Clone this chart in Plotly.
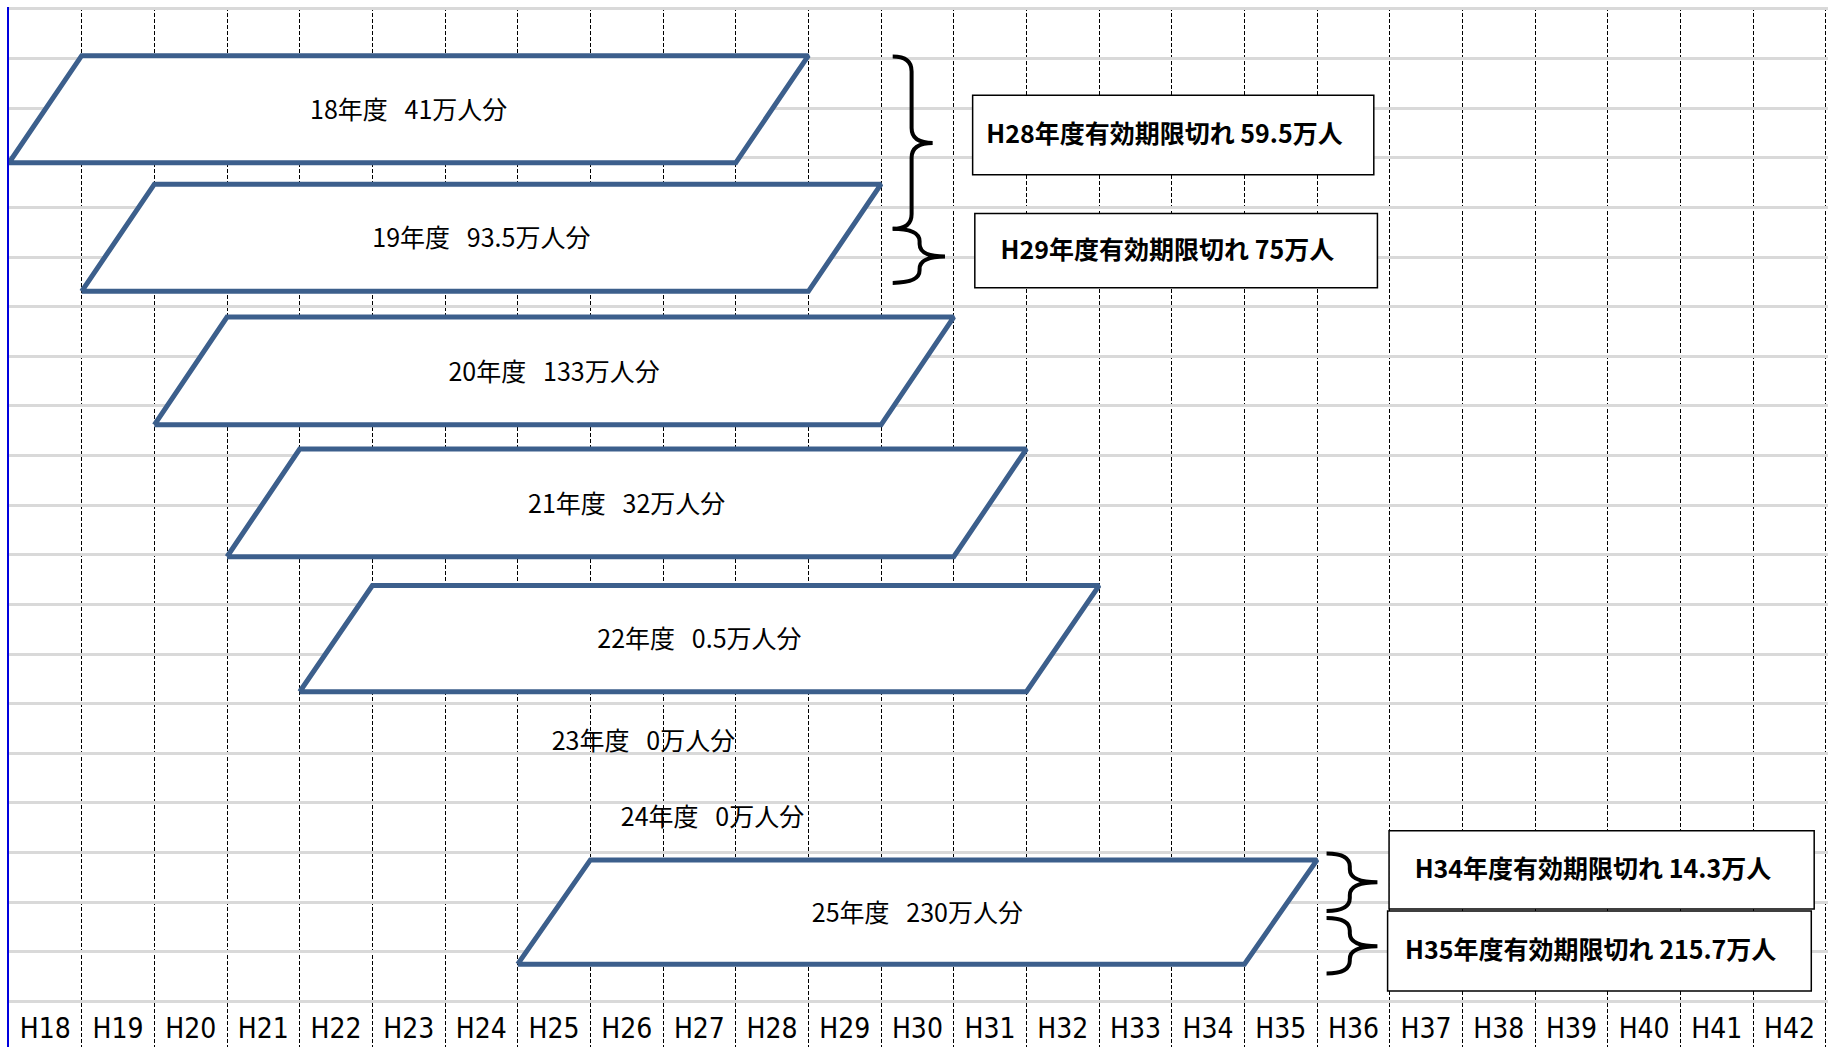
import plotly.graph_objects as go

# ---- data ----
fiscal_years = ["18年度", "19年度", "20年度", "21年度", "22年度", "23年度", "24年度", "25年度"]
issued_10k = ["41", "93.5", "133", "32", "0.5", "0", "0", "230"]
start_col = [0, 1, 2, 3, 4, 5, 6, 7]          # column index of start (H18 = 0)
drawn = [True, True, True, True, True, False, False, True]
row_top = [0.94, 3.53, 6.21, 8.87, 11.62, None, None, 17.15]
row_bottom = [3.10, 5.69, 8.38, 11.04, 13.76, None, None, 19.25]
valid_years = 10
# label positions for years with no parallelogram
empty_label_x = [8.73, 9.68]
empty_label_y = [14.8, 16.33]

tick_labels = ["H%d" % y for y in range(18, 43)]

expiry_texts = ["H28年度有効期限切れ 59.5万人", "H29年度有効期限切れ 75万人",
                "H34年度有効期限切れ 14.3万人", "H35年度有効期限切れ 215.7万人"]
box_x0 = [13.26, 13.29, 18.99, 18.97]
box_x1 = [18.78, 18.83, 24.84, 24.80]
box_y0 = [1.74, 4.12, 16.56, 18.18]
box_y1 = [3.34, 5.62, 18.14, 19.79]

# braces: x_left, x_mid, x_tip, y_top, y_tip, y_bottom
brace_x0 = [12.16, 12.16, 18.13, 18.13]
brace_xm = [12.42, 12.53, 18.45, 18.45]
brace_xt = [12.71, 12.88, 18.83, 18.83]
brace_yt = [0.96, 4.43, 17.02, 18.32]
brace_yc = [2.70, 4.99, 17.60, 18.89]
brace_yb = [4.43, 5.52, 18.18, 19.44]

EDGE = "#3C5F8C"
JP = "Noto Sans CJK JP"

fig = go.Figure()

# parallelograms
lab_x, lab_y, lab_t = [], [], []
ei = 0
for i, fy in enumerate(fiscal_years):
    text = f"{fy}\u00a0\u00a0\u00a0{issued_10k[i]}万人分"
    if drawn[i]:
        s = start_col[i]
        xs = [s, s + 1, s + 1 + valid_years, s + valid_years, s]
        ys = [row_bottom[i], row_top[i], row_top[i], row_bottom[i], row_bottom[i]]
        fig.add_trace(go.Scatter(x=xs, y=ys, mode="lines", fill="toself",
                                 fillcolor="white", line=dict(color=EDGE, width=5),
                                 hoverinfo="skip", showlegend=False))
        lab_x.append(s + 0.5 + valid_years / 2)
        lab_y.append((row_top[i] + row_bottom[i]) / 2 + 0.07)
    else:
        lab_x.append(empty_label_x[ei])
        lab_y.append(empty_label_y[ei])
        ei += 1
    lab_t.append(text)

fig.add_trace(go.Scatter(x=lab_x, y=lab_y, text=lab_t, mode="text",
                         textfont=dict(family=JP, size=25, color="black"),
                         hoverinfo="skip", showlegend=False))

# boxes
shapes = []
for i in range(len(expiry_texts)):
    shapes.append(dict(type="rect", xref="x", yref="y", x0=box_x0[i], x1=box_x1[i],
                       y0=box_y0[i], y1=box_y1[i], fillcolor="white",
                       line=dict(color="black", width=1.5), layer="between"))

fig.add_trace(go.Scatter(
    x=[(box_x0[i] + box_x1[i]) / 2 - 0.12 for i in range(len(expiry_texts))],
    y=[(box_y0[i] + box_y1[i]) / 2 + 0.04 for i in range(len(expiry_texts))],
    text=["<b>%s</b>" % t for t in expiry_texts], mode="text",
    textfont=dict(family=JP, size=25, color="black"),
    hoverinfo="skip", showlegend=False))

# braces
def brace_path(x0, xm, xt, yt, yc, yb, d=0.3):
    return (f"M {x0},{yt} Q {xm},{yt} {xm},{yt + d} "
            f"L {xm},{yc - d} Q {xm},{yc} {xt},{yc} "
            f"Q {xm},{yc} {xm},{yc + d} "
            f"L {xm},{yb - d} Q {xm},{yb} {x0},{yb}")

for i in range(len(brace_x0)):
    d = min(0.3, (brace_yc[i] - brace_yt[i]) * 0.45)
    shapes.append(dict(type="path", xref="x", yref="y",
                       path=brace_path(brace_x0[i], brace_xm[i], brace_xt[i],
                                       brace_yt[i], brace_yc[i], brace_yb[i], d),
                       line=dict(color="black", width=4), layer="above"))

fig.update_layout(
    width=1829, height=1047,
    margin=dict(l=9, r=1, t=7, b=0),
    paper_bgcolor="white", plot_bgcolor="white",
    shapes=shapes, showlegend=False,
    xaxis=dict(range=[0, 25.03], tickvals=[i + 0.5 for i in range(25)],
               ticktext=tick_labels, ticklabelposition="inside", ticks="",
               ticklabelstandoff=0,
               tickfont=dict(family="Liberation Sans Narrow, DejaVu Sans Condensed, sans-serif",
                             size=28, color="black"),
               showgrid=False, zeroline=False, showline=False,
               minor=dict(tick0=0, dtick=1, showgrid=True, gridcolor="black",
                          gridwidth=1, griddash="4px,2px", ticks="")),
    yaxis=dict(range=[20.92, -0.04], tickvals=list(range(0, 21)),
               showticklabels=False, ticks="", showgrid=True, gridcolor="#d9d9d9",
               gridwidth=3, zeroline=False, showline=True, linecolor="#0000dd",
               linewidth=2),
)

fig.write_html("out.html")
